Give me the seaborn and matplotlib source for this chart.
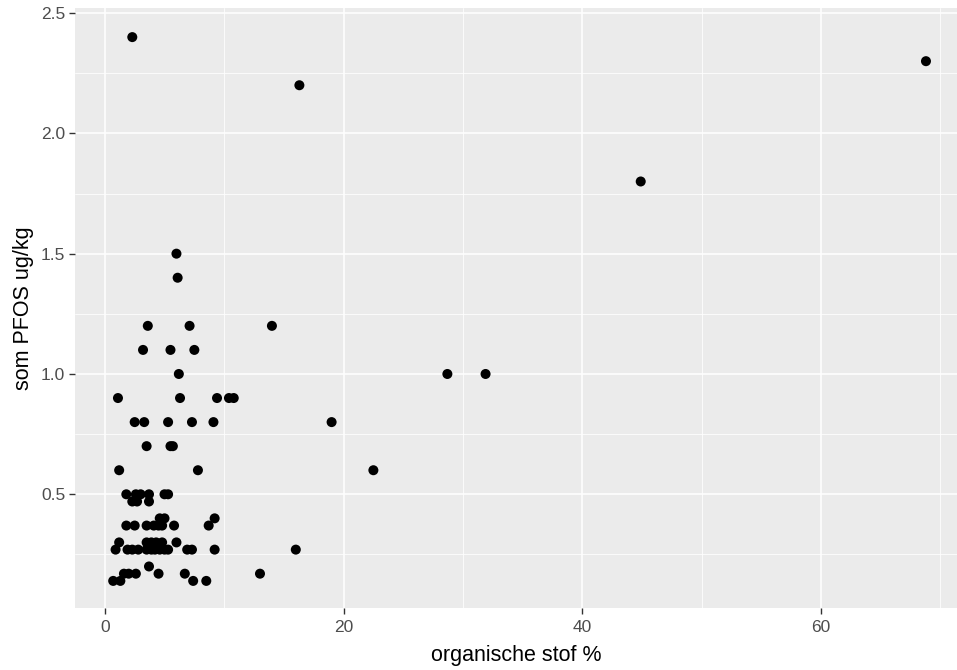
import matplotlib
matplotlib.use("Agg")
import matplotlib.pyplot as plt
import seaborn as sns
import pandas as pd
from matplotlib.ticker import MultipleLocator

# organische stof % (x) and som PFOS ug/kg (y)
organische_stof = [
    2.3, 16.3, 68.8, 44.9, 28.7, 31.9, 19.0, 22.5, 14.0,
    6.0, 6.1,
    3.6, 7.1,
    3.2, 5.5, 7.5,
    6.2,
    1.1, 6.3, 9.4, 10.4, 10.8,
    2.5, 3.3, 5.3, 7.3, 9.1,
    3.5, 5.5, 5.7,
    1.2, 7.8,
    1.8, 2.6, 3.0, 3.7, 5.0, 5.3,
    2.3, 2.7, 3.7,
    4.6, 5.0, 9.2,
    1.8, 2.5, 3.5, 4.1, 4.5, 4.8, 5.8, 8.7,
    1.2, 3.5, 3.9, 4.3, 4.8, 6.0,
    0.9, 1.9, 2.3, 2.8, 3.5, 3.9, 4.2, 4.6, 5.0, 5.3, 6.9, 7.3, 9.2, 16.0,
    3.7,
    1.6, 2.0, 2.6, 4.5, 6.7, 13.0,
    0.7, 1.3, 7.4, 8.5,
]
som_pfos = [
    2.4, 2.2, 2.3, 1.8, 1.0, 1.0, 0.8, 0.6, 1.2,
    1.5, 1.4,
    1.2, 1.2,
    1.1, 1.1, 1.1,
    1.0,
    0.9, 0.9, 0.9, 0.9, 0.9,
    0.8, 0.8, 0.8, 0.8, 0.8,
    0.7, 0.7, 0.7,
    0.6, 0.6,
    0.5, 0.5, 0.5, 0.5, 0.5, 0.5,
    0.47, 0.47, 0.47,
    0.4, 0.4, 0.4,
    0.37, 0.37, 0.37, 0.37, 0.37, 0.37, 0.37, 0.37,
    0.3, 0.3, 0.3, 0.3, 0.3, 0.3,
    0.27, 0.27, 0.27, 0.27, 0.27, 0.27, 0.27, 0.27, 0.27, 0.27, 0.27, 0.27, 0.27, 0.27,
    0.2,
    0.17, 0.17, 0.17, 0.17, 0.17, 0.17,
    0.14, 0.14, 0.14, 0.14,
]

x_ticks = [0, 20, 40, 60]
y_ticks = [0.5, 1.0, 1.5, 2.0, 2.5]
x_label = "organische stof %"
y_label = "som PFOS ug/kg"

df = pd.DataFrame({"x": organische_stof, "y": som_pfos})

sns.set_theme(style="darkgrid")
plt.rcParams["font.family"] = ["Liberation Sans", "DejaVu Sans"]

fig = plt.figure(figsize=(9.57, 6.7), dpi=100, facecolor="white")
ax = fig.add_axes([75 / 957, 1 - 608 / 670, 1 - 75 / 957, (608 - 8) / 670])
ax.set_facecolor("#EBEBEB")

sns.scatterplot(data=df, x="x", y="y", ax=ax, color="black", s=52,
                edgecolor="none", linewidth=0, zorder=3)

ax.set_xlim(-2.5, 71.4)
ax.set_ylim(0.0274, 2.521)
ax.set_xticks(x_ticks)
ax.set_yticks(y_ticks)
ax.xaxis.set_minor_locator(MultipleLocator(10))
ax.yaxis.set_minor_locator(MultipleLocator(0.25))
ax.grid(which="major", color="white", linewidth=1.1)
ax.grid(which="minor", color="white", linewidth=0.55)
ax.set_axisbelow(True)
for sp in ax.spines.values():
    sp.set_visible(False)

ax.tick_params(axis="both", which="major", length=4, width=1.0, color="#333333",
               labelcolor="#4D4D4D", labelsize=12.5, bottom=True, left=True, pad=3)
ax.tick_params(axis="x", which="major", pad=5)
ax.tick_params(axis="both", which="minor", length=0)
ax.set_xticklabels([str(t) for t in x_ticks])
ax.set_yticklabels([f"{t:.1f}" for t in y_ticks])

ax.set_xlabel(x_label, fontsize=15.5, color="black", labelpad=7)
ax.set_ylabel(y_label, fontsize=15.5, color="black", labelpad=5)

fig.savefig("out.png", dpi=100, facecolor="white")
